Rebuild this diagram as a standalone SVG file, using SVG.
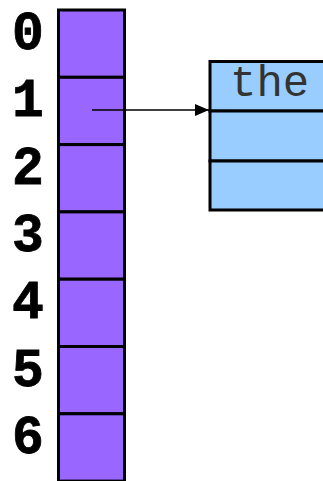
<svg xmlns="http://www.w3.org/2000/svg" width="323" height="481" viewBox="0 0 323 481">
  <defs>
    <style>
      .slot { fill: #9966ff; stroke: #000; stroke-width: 3; }
      .cell { fill: #99ccff; stroke: #000; stroke-width: 3; }
      .idx { font-family: "Liberation Mono", "Courier New", monospace; font-weight: bold; font-size: 53px; fill: #000; text-anchor: middle; stroke: #000; stroke-width: 0.8; }
      .word { font-family: "Liberation Mono", "Courier New", monospace; font-size: 44px; fill: #333; }
      .link { stroke: #000; stroke-width: 1.5; fill: none; }
    </style>
    <marker id="arrowhead" viewBox="0 0 14 12" refX="14" refY="6" markerWidth="14" markerHeight="12" markerUnits="userSpaceOnUse" orient="auto">
      <path d="M0,0 L14,6 L0,12 Z" fill="#000"/>
    </marker>
  </defs>

  <!-- hash table buckets -->
  <g id="table">
    <rect class="slot" x="58.5" y="10" width="66" height="67.3"/>
    <rect class="slot" x="58.5" y="77.3" width="66" height="67.3"/>
    <rect class="slot" x="58.5" y="144.6" width="66" height="67.3"/>
    <rect class="slot" x="58.5" y="211.9" width="66" height="67.3"/>
    <rect class="slot" x="58.5" y="279.2" width="66" height="67.3"/>
    <rect class="slot" x="58.5" y="346.5" width="66" height="67.3"/>
    <rect class="slot" x="58.5" y="413.8" width="66" height="67.3"/>
  </g>

  <!-- bucket indices -->
  <g id="indices">
    <text class="idx" x="28" y="49">0</text>
    <text class="idx" x="28" y="116.3">1</text>
    <text class="idx" x="28" y="183.6">2</text>
    <text class="idx" x="28" y="250.9">3</text>
    <text class="idx" x="28" y="318.2">4</text>
    <text class="idx" x="28" y="385.5">5</text>
    <text class="idx" x="28" y="452.8">6</text>
  </g>

  <!-- list node holding "the" -->
  <g id="node-the">
    <rect class="cell" x="210" y="61.5" width="200" height="49.5"/>
    <rect class="cell" x="210" y="111" width="200" height="50"/>
    <rect class="cell" x="210" y="161" width="200" height="49"/>
    <text class="word" x="230" y="96">the</text>
  </g>

  <g id="connectors">
    <line class="link" x1="92" y1="110" x2="209" y2="110" marker-end="url(#arrowhead)"/>
  </g>
</svg>
